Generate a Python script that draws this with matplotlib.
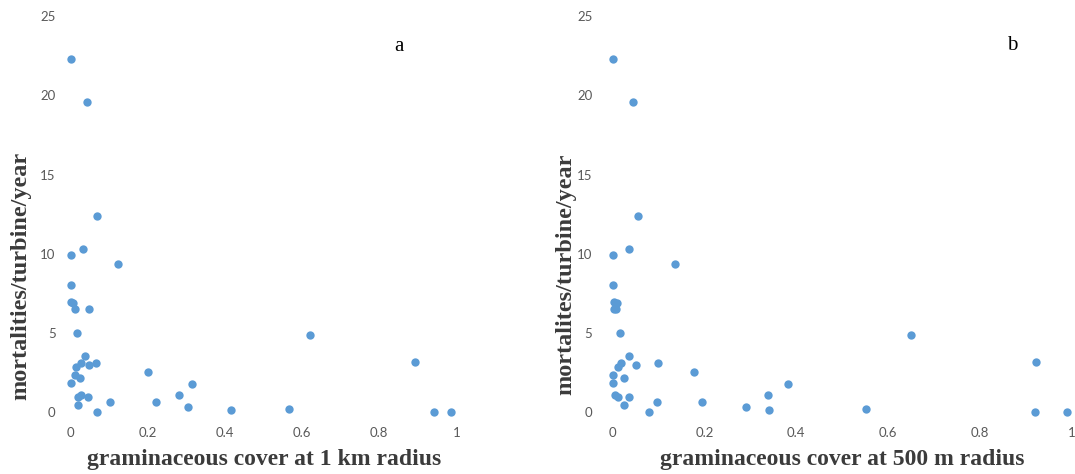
import matplotlib
matplotlib.use('Agg')
import matplotlib.pyplot as plt

# mortalities per turbine per year, one value per turbine (shared by both panels)
mortality = [22.27, 19.6, 12.38, 10.28, 9.92, 9.36, 8.03, 6.94, 6.92, 6.54, 6.54,
             4.98, 4.86, 3.55, 3.2, 2.88, 3.09, 2.99, 3.09, 2.52, 2.38, 2.17, 1.83,
             1.79, 1.07, 0.95, 0.99, 1.09, 0.63, 0.63, 0.44, 0.32, 0.15, 0.19, 0.0,
             0.04, 0.04]

# graminaceous cover fraction within 1 km of each turbine
cover_1km = [0.0, 0.043, 0.068, 0.033, 0.0, 0.124, 0.0, 0.0, 0.006, 0.012, 0.049,
             0.017, 0.621, 0.0375, 0.893, 0.013, 0.028, 0.047, 0.066, 0.201, 0.012,
             0.024, 0.0, 0.315, 0.026, 0.019, 0.045, 0.281, 0.101, 0.222, 0.0196,
             0.305, 0.416, 0.565, 0.069, 0.942, 0.9875]

# graminaceous cover fraction within 500 m of each turbine
cover_500m = [0.0, 0.044, 0.055, 0.035, 0.0, 0.135, 0.0, 0.004, 0.010, 0.003, 0.008,
              0.016, 0.65, 0.037, 0.921, 0.012, 0.019, 0.051, 0.0995, 0.1765, 0.0,
              0.025, 0.0, 0.382, 0.006, 0.013, 0.037, 0.338, 0.097, 0.194, 0.025,
              0.29, 0.34, 0.551, 0.0785, 0.919, 0.989]

xticks = [0, 0.2, 0.4, 0.6, 0.8, 1]
xticklabels = ['0', '0.2', '0.4', '0.6', '0.8', '1']
yticks = [0, 5, 10, 15, 20, 25]

W, H = 1075, 474
fig = plt.figure(figsize=(W / 100, H / 100), dpi=100)
fig.patch.set_facecolor('white')

dot_color = '#5B9BD5'
tick_color = '#595959'
title_color = '#3b3b3b'
label_font = 'Liberation Serif'


def px_axes(left, bottom, right, top):
    # axes box given in pixels measured from the top-left corner
    return fig.add_axes([left / W, 1 - bottom / H, (right - left) / W, (bottom - top) / H])


def style(ax, xmax, ypad):
    ax.set_xlim(-0.03, xmax)
    ax.set_ylim(-0.8, 25.5)
    ax.set_xticks(xticks)
    ax.set_xticklabels(xticklabels)
    ax.set_yticks(yticks)
    for s in ax.spines.values():
        s.set_visible(False)
    ax.tick_params(length=0, colors=tick_color, labelsize=9.5, pad=1.5)
    ax.tick_params(axis='y', pad=ypad)
    for t in ax.get_xticklabels() + ax.get_yticklabels():
        t.set_fontfamily('Lato')


# left panel: x=0 at 70.6 px, 385.7 px per unit; y=0 at 412.3 px, 15.85 px per unit
ax1 = px_axes(70.6 - 0.03 * 385.7, 412.3 + 0.8 * 15.85, 70.6 + 1.03 * 385.7, 16 - 0.5 * 15.85)
ax1.scatter(cover_1km, mortality, s=36, color=dot_color, linewidths=0, clip_on=False, zorder=3)
style(ax1, 1.03, 2.5)

# right panel: x=0 at 612.5 px, 459.4 px per unit
ax2 = px_axes(612.5 - 0.03 * 459.4, 412.3 + 0.8 * 15.85, 612.5 + 1.0 * 459.4, 16 - 0.5 * 15.85)
ax2.scatter(cover_500m, mortality, s=36, color=dot_color, linewidths=0, clip_on=False, zorder=3)
style(ax2, 1.0, 4.5)

# axis titles and panel letters
fig.text(20.7 / W, 1 - 276 / H, 'mortalities/turbine/year', rotation=90, ha='center', va='center',
         family=label_font, weight='bold', size=17.5, color=title_color)
fig.text(566 / W, 1 - 274 / H, 'mortalites/turbine/year', rotation=90, ha='center', va='center',
         family=label_font, weight='bold', size=17.5, color=title_color)
fig.text(264 / W, 1 - 459 / H, 'graminaceous cover at 1 km radius', ha='center', va='center',
         family=label_font, weight='bold', size=17, color=title_color)
fig.text(842 / W, 1 - 460 / H, 'graminaceous cover at 500 m radius', ha='center', va='center',
         family=label_font, weight='bold', size=17, color=title_color)
fig.text(398.8 / W, 1 - 46.7 / H, 'a', ha='center', va='center', family=label_font, size=15, color='black')
fig.text(1012 / W, 1 - 45.7 / H, 'b', ha='center', va='center', family=label_font, size=15, color='black')

fig.savefig('out.png', dpi=100, facecolor='white')
